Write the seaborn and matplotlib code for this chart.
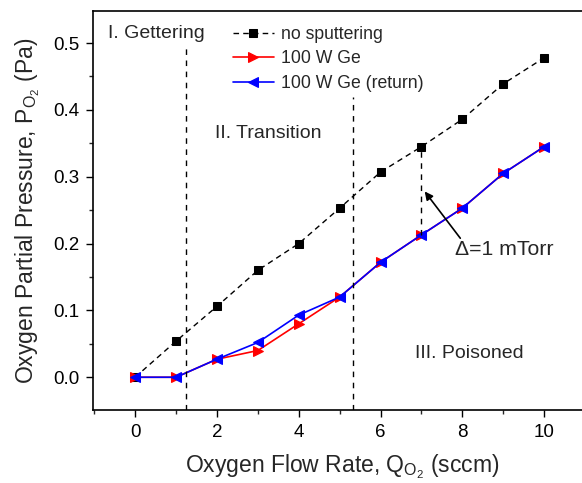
import numpy as np
import pandas as pd
import matplotlib
matplotlib.use("Agg")
import matplotlib.pyplot as plt
import seaborn as sns
from matplotlib.ticker import MultipleLocator

flow = [0, 1, 2, 3, 4, 5, 6, 7, 8, 9, 10]
no_sputter = [0.0, 0.054, 0.106, 0.160, 0.200, 0.253, 0.307, 0.345, 0.386, 0.439, 0.478]
ge_100w = [0.0, 0.0, 0.027, 0.040, 0.080, 0.120, 0.172, 0.213, 0.253, 0.305, 0.345]
ge_100w_return = [0.0, 0.0, 0.027, 0.052, 0.093, 0.120, 0.172, 0.213, 0.253, 0.305, 0.345]
boundaries = [1.25, 5.33]
boundary_tops = [0.493, 0.419]
region_labels = ["I. Gettering", "II. Transition", "III. Poisoned"]

sns.set_style("ticks")
plt.rcParams['font.family'] = ['Liberation Sans', 'DejaVu Sans']
plt.rcParams['mathtext.fontset'] = 'custom'
plt.rcParams['mathtext.rm'] = 'Liberation Sans'
plt.rcParams['mathtext.it'] = 'Liberation Sans:italic'

df = pd.DataFrame({"flow": flow, "none": no_sputter, "ge": ge_100w, "ret": ge_100w_return})

W, H = 582, 483
fig = plt.figure(figsize=(W / 100, H / 100), dpi=100)
left, right, top, bottom = 93, 592, 11, 410
ax = fig.add_axes([left / W, 1 - bottom / H, (right - left) / W, (bottom - top) / H])

sns.lineplot(data=df, x="flow", y="none", ax=ax, color="black", linestyle=(0, (4, 3)),
             marker="s", markersize=5.5, linewidth=1, markeredgecolor="black",
             label="no sputtering")
sns.lineplot(data=df, x="flow", y="ge", ax=ax, color="red", marker=">", markersize=7.5,
             linewidth=1.2, markeredgecolor="red", label="100 W Ge")
sns.lineplot(data=df, x="flow", y="ret", ax=ax, color="blue", marker="<", markersize=7.5,
             linewidth=1.2, markeredgecolor="blue", label="100 W Ge (return)")

ax.set_xlim(-1.03, 11.17)
ax.set_ylim(-0.049, 0.548)

for xb, yt in zip(boundaries, boundary_tops):
    ax.plot([xb, xb], [-0.049, yt], color="black", linestyle=(0, (4, 4)), linewidth=1)

# delta marker at x=7
ax.plot([7, 7], [ge_100w[7], no_sputter[7]], color="black", linestyle=(0, (4, 4)), linewidth=1)
ax.annotate("", xy=(7.08, 0.278), xytext=(7.95, 0.208),
            arrowprops=dict(arrowstyle="-|>", color="black", lw=1.2,
                            shrinkA=0, shrinkB=0, mutation_scale=12))
ax.text(7.82, 0.191, "Δ=1 mTorr", fontsize=15.3, va="center", ha="left")

ax.text(-0.66, 0.515, region_labels[0], fontsize=14, va="center", ha="left")
ax.text(1.96, 0.365, region_labels[1], fontsize=14, va="center", ha="left")
ax.text(6.85, 0.036, region_labels[2], fontsize=14, va="center", ha="left")

ax.xaxis.set_major_locator(MultipleLocator(2))
ax.xaxis.set_minor_locator(MultipleLocator(1))
ax.yaxis.set_major_locator(MultipleLocator(0.1))
ax.yaxis.set_minor_locator(MultipleLocator(0.05))
ax.set_yticks([0.0, 0.1, 0.2, 0.3, 0.4, 0.5])
ax.set_yticklabels(["0.0", "0.1", "0.2", "0.3", "0.4", "0.5"])
ax.tick_params(which="major", direction="out", length=5, width=1, labelsize=13.5,
               colors="black", pad=5)
ax.tick_params(which="minor", direction="out", length=3, width=1)
for s in ax.spines.values():
    s.set_linewidth(1.2)
    s.set_color("black")

ax.set_xlabel(r"Oxygen Flow Rate, Q$_{\mathregular{O_2}}$ (sccm)", fontsize=16.5, labelpad=8)
ax.set_ylabel(r"Oxygen Partial Pressure, P$_{\mathregular{O_2}}$ (Pa)", fontsize=16.5, labelpad=8)

leg = ax.legend(loc="upper left", bbox_to_anchor=((233 - left) / (right - left), (bottom - 26) / (bottom - top)),
                frameon=False, fontsize=12.7, handlelength=2.3, handletextpad=0.4,
                labelspacing=0.42, borderpad=0, borderaxespad=0)

fig.savefig("out.png", dpi=100)
